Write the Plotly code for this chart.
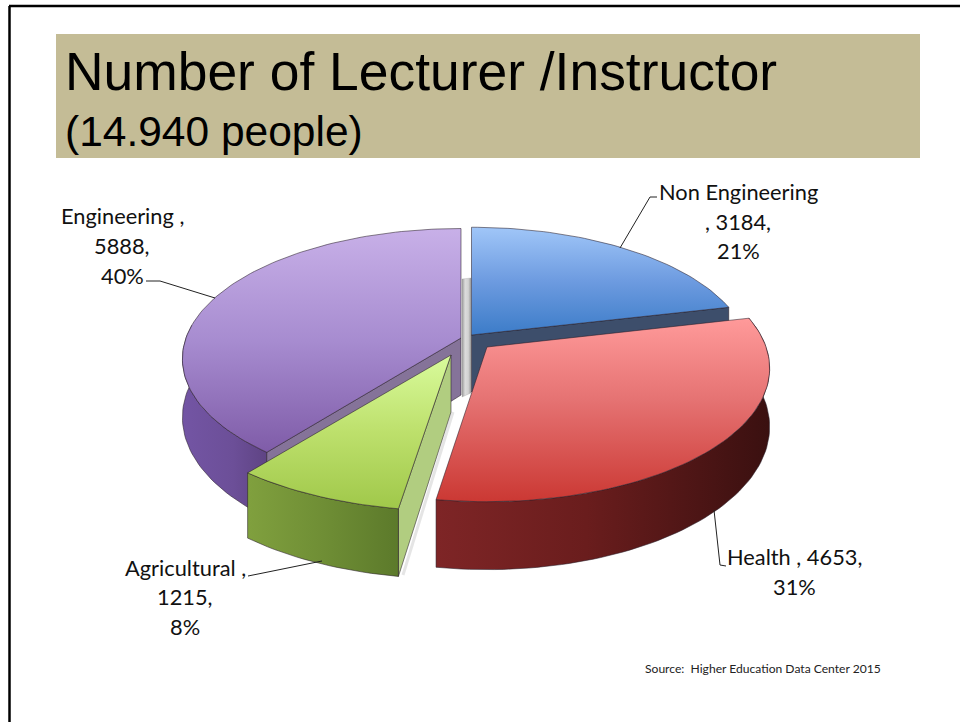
import numpy as np
import plotly.graph_objects as go

categories = ["Non Engineering", "Health", "Agricultural", "Engineering"]
values = [3184, 4653, 1215, 5888]
percents = ["21%", "31%", "8%", "40%"]
title_main = "Number of Lecturer /Instructor"
title_sub = "(14.940 people)"
source_note = "Source:  Higher Education Data Center 2015"

# projection of each exploded slice onto the page (pixels)
apex = {"Non Engineering": (471.5, 335), "Health": (487, 347), "Agricultural": (451, 355), "Engineering": (461, 338)}
radii = {"Non Engineering": (274, 125), "Health": (279, 130), "Agricultural": (288, 131), "Engineering": (275, 127)}
PERSP = 0.16
DEPTH = 57

total = sum(values)
edges = np.concatenate([[0], np.cumsum(values)]) / total * 2 * np.pi
span = {c: (edges[i], edges[i + 1]) for i, c in enumerate(categories)}


def rim(cat, a0, a1, drop=False):
    t = np.linspace(a0, a1, max(2, int(abs(a1 - a0) * 40)))
    X, Y = np.sin(t), np.cos(t)
    w = 1 / (1 + PERSP * Y)
    R, Ry = radii[cat]
    ax, ay = apex[cat]
    return ax + R * X * w, ay - Ry * Y * w + (DEPTH * w if drop else 0)


fig = go.Figure()


def poly(x, y, cs, kind="vertical", line="rgba(40,30,40,0.55)", name=""):
    fig.add_trace(go.Scatter(
        x=list(x) + [x[0]], y=list(y) + [y[0]], mode="lines", fill="toself",
        fillgradient=dict(type=kind, colorscale=cs),
        line=dict(color=line, width=1), hoverinfo="skip", showlegend=False, name=name))


def top(cat, cs):
    a0, a1 = span[cat]
    x, y = rim(cat, a0, a1)
    ax, ay = apex[cat]
    poly([ax, *x], [ay, *y], cs, name=cat)


def outer_wall(cat, a0, a1, cs):
    xt, yt = rim(cat, a0, a1)
    xb, yb = rim(cat, a1, a0, True)
    poly([*xt, *xb], [*yt, *yb], cs, "horizontal", name=cat + " wall")


def inner_wall(cat, angle, color):
    x, y = rim(cat, angle, angle)
    ax, ay = apex[cat]
    xb, yb = rim(cat, angle, angle, True)
    poly([ax, x[0], xb[0], ax], [ay, y[0], yb[0], ay + DEPTH], [[0, color], [1, color]], name=cat + " cut")


# grey cut face behind the gap
poly([462, 471, 471, 462], [279, 278, 393, 397],
     [[0, "#9a9a9a"], [0.35, "#dcdcdc"], [0.7, "#d2d2d2"], [1, "#9a9a9a"]], "horizontal", line="rgba(160,160,160,0.3)")

E, N, H, A = "Engineering", "Non Engineering", "Health", "Agricultural"
outer_wall(E, span[E][0], 1.5 * np.pi + 0.1,
           [[0, "#7355a4"], [0.6, "#6c4f98"], [1, "#5f4484"]])
inner_wall(E, span[E][0], "#857399")
top(E, [[0, "#7f5ca8"], [0.5, "#a78cd0"], [1, "#c8b0e8"]])

inner_wall(N, span[N][1], "#3d4e6b")
top(N, [[0, "#3c7cc8"], [0.5, "#6d9be0"], [1, "#a0c6f8"]])

outer_wall(H, span[H][0], span[H][1],
           [[0, "#7e2526"], [0.45, "#6a1d1d"], [1, "#3a1010"]])
top(H, [[0, "#cb3833"], [0.55, "#e57272"], [1, "#ff9a9a"]])

inner_wall(A, span[A][0], "#b1cd80")
outer_wall(A, span[A][0], span[A][1], [[0, "#80a03e"], [0.5, "#6f8e35"], [1, "#5c7a2b"]])
top(A, [[0, "#a0c84a"], [0.5, "#bde06c"], [1, "#d9fb9c"]])

label_lines = {
    N: [(N, 738, 191), (f", {values[0]},", 738, 221), (percents[0], 738, 250)],
    H: [(f"Health , {values[1]},", 794, 556), (percents[1], 794, 586)],
    A: [("Agricultural ,", 185, 567), (f"{values[2]},", 185, 596), (percents[2], 185, 626)],
    E: [("Engineering ,", 122, 215), (f"{values[3]},", 122, 245), (percents[3], 122, 275)],
}
annotations = []
for lines in label_lines.values():
    for text, x, y in lines:
        annotations.append(dict(x=x, y=y, text=text, showarrow=False, xanchor="center", yanchor="middle",
                                font=dict(family="Lato", size=21.8, color="#111111")))
annotations += [
    dict(x=63, y=71, text=title_main, showarrow=False, xanchor="left", yanchor="middle",
         font=dict(family="Liberation Sans", size=53.4, color="#000000")),
    dict(x=63, y=131, text=title_sub, showarrow=False, xanchor="left", yanchor="middle",
         font=dict(family="Liberation Sans", size=42.5, color="#000000")),
    dict(x=643, y=668, text=source_note, showarrow=False, xanchor="left", yanchor="middle",
         font=dict(family="Lato", size=12.1, color="#222222")),
]


def seg(x0, y0, x1, y1, color="#222222", width=1):
    return dict(type="line", x0=x0, y0=y0, x1=x1, y1=y1, layer="above", line=dict(color=color, width=width))


shapes = [
    dict(type="rect", x0=56, y0=34, x1=920, y1=158, fillcolor="#C4BC96", line=dict(width=0), layer="below"),
    dict(type="line", x0=9, y0=6, x1=960, y1=6, line=dict(color="#000000", width=2.5), layer="below"),
    dict(type="line", x0=9.5, y0=6, x1=9.5, y1=722, line=dict(color="#000000", width=2.5), layer="below"),
    seg(620, 248, 650, 197), seg(650, 197, 657, 197),
    seg(146, 281, 160, 281), seg(160, 281, 215, 298),
    seg(714, 510, 720, 565), seg(720, 565, 726, 566),
    seg(248, 576, 258, 574), seg(258, 574, 322, 561),
    dict(type="line", x0=453, y0=412, x1=403, y1=575, layer="below", line=dict(color="rgba(0,0,0,0.1)", width=3)),
]

fig.update_layout(
    width=960, height=722, margin=dict(l=0, r=0, t=0, b=0),
    paper_bgcolor="white", plot_bgcolor="white", showlegend=False,
    xaxis=dict(range=[0, 960], visible=False, fixedrange=True),
    yaxis=dict(range=[722, 0], visible=False, fixedrange=True),
    shapes=shapes, annotations=annotations,
)
fig.write_html("out.html", config={"displayModeBar": False},
               post_script="document.body.style.margin='0';document.body.style.overflow='hidden';")
